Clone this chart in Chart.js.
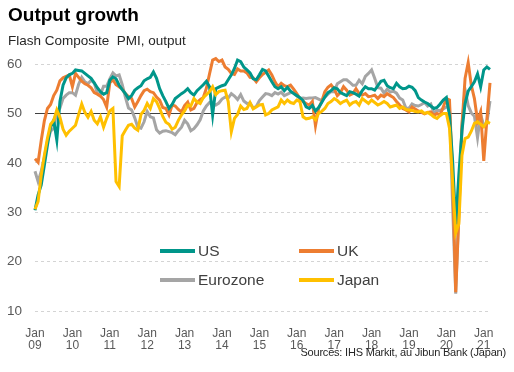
<!DOCTYPE html>
<html>
<head>
<meta charset="utf-8">
<title>Output growth</title>
<script src="https://cdn.jsdelivr.net/npm/chart.js@4.4.1/dist/chart.umd.min.js"></script>
<style>
    body { margin: 0; background: #fff; }
    #wrap { position: relative; width: 514px; height: 372px; font-family: 'Liberation Sans', Arial, sans-serif; }
    #wrap canvas { position: absolute; left: 0; top: 0; }
    .txt { position: absolute; line-height: 1; white-space: pre; }
    #title { left: 8px; top: 4.5px; font-size: 19px; font-weight: bold; color: #000; }
    #subtitle { left: 8px; top: 34px; font-size: 13.5px; color: #262626; }
    #source { right: 8px; top: 347px; font-size: 11px; letter-spacing: -0.2px; color: #262626; }
</style>
</head>
<body>
<div id="wrap">
    <canvas id="pmiChart" width="514" height="372"></canvas>
    <div class="txt" id="title">Output growth</div>
    <div class="txt" id="subtitle">Flash Composite  PMI, output</div>
    <div class="txt" id="source">Sources: IHS Markit, au Jibun Bank (Japan)</div>
</div>
<script>
// 月次データ Jan 2009 - Mar 2021
const monthNames = ['Jan', 'Feb', 'Mar', 'Apr', 'May', 'Jun', 'Jul', 'Aug', 'Sep', 'Oct', 'Nov', 'Dec'];
const yearTicks = ['09', '10', '11', '12', '13', '14', '15', '16', '17', '18', '19', '20', '21'];

const usData = [
    30.4, 33.5, 35.5, 39.5, 43.6, 47.3, 48.6, 44.6, 52.4, 55.7, 57.2, 57.8,
    58.1, 58.8, 58.7, 58.6, 58.1, 57.6, 57.1, 56.2, 55.2, 54.4, 53.9, 54.2,
    56.7, 57.4, 57.0, 55.7, 54.8, 54.0, 53.0, 53.6, 54.7, 55.2, 55.6, 56.6,
    57.0, 57.3, 58.4, 57.1, 55.0, 53.6, 52.4, 51.0, 51.8, 53.0, 53.5, 54.0,
    54.4, 55.0, 54.2, 53.7, 54.6, 55.2, 55.8, 56.5, 55.4, 49.7, 55.0, 55.3,
    55.6, 55.8, 56.8, 57.8, 59.1, 60.8, 60.5, 59.4, 58.8, 58.2, 57.0, 56.8,
    57.8, 58.9, 58.6, 57.5, 56.4, 55.4, 55.0, 55.4, 54.6, 55.3, 54.5, 54.0,
    53.6, 53.2, 52.6, 51.3, 51.0, 51.6, 50.5, 51.2, 52.2, 53.3, 54.2, 54.6,
    55.2, 55.0, 54.2, 53.9, 53.6, 54.4, 54.2, 53.9, 53.5, 54.6, 55.4, 55.0,
    55.0, 54.7, 55.6, 56.5, 56.7, 55.6, 55.2, 55.0, 56.1, 55.4, 55.0, 55.1,
    55.5, 55.3, 54.6, 53.2, 52.7, 52.3, 52.0, 51.5, 51.0, 51.2, 51.9, 52.7,
    53.2, 49.6, 40.5, 27.5, 37.5, 46.5, 52.0, 54.5, 55.4, 56.4, 58.0, 55.4,
    58.8, 59.4, 58.9
];

const ukData = [
    40.8, 40.1, 44.5, 48.5, 51.0, 51.8, 53.6, 54.7, 56.6, 57.2, 57.5, 57.8,
    55.4, 58.1, 57.3, 56.5, 56.0, 55.7, 55.2, 54.2, 53.9, 53.5, 52.8, 51.3,
    56.2, 56.8, 55.8, 55.4, 54.9, 54.0, 53.4, 53.0, 51.3, 52.4, 53.6, 54.6,
    54.9, 54.4, 54.2, 53.3, 52.7, 51.2, 51.0, 49.7, 51.7, 51.5, 50.8, 50.3,
    51.6, 52.3, 50.7, 51.0, 52.2, 52.8, 53.2, 55.1, 58.0, 60.8, 61.1, 60.5,
    60.8, 59.4, 58.9, 58.1, 57.9, 59.0, 58.6, 58.6, 58.2, 57.3, 57.2, 56.4,
    57.2, 57.9, 58.3, 58.8, 57.8, 56.4, 55.4, 56.1, 55.6, 55.4, 55.7, 54.9,
    54.0, 53.0, 52.4, 52.0, 51.7, 52.4, 47.5, 51.0, 52.4, 54.4, 55.3, 55.8,
    55.0, 53.6, 54.2, 55.4, 54.7, 53.7, 54.0, 55.0, 54.0, 53.7, 54.0, 53.4,
    53.5, 53.7, 53.0, 53.7, 53.4, 54.0, 53.6, 53.2, 52.4, 51.7, 51.0, 50.7,
    50.3, 51.3, 50.9, 50.5, 50.2, 49.9, 50.2, 50.3, 49.6, 50.0, 49.7, 51.3,
    53.0, 52.7, 37.0, 13.8, 29.0, 47.6, 57.1, 60.3, 55.7, 53.0, 48.5, 50.3,
    40.4, 48.8, 56.2
];

const eurozoneData = [
    38.3, 36.2, 38.3, 41.1, 44.4, 46.4, 47.0, 50.4, 51.1, 53.0, 53.7, 54.2,
    54.2, 53.7, 55.9, 57.3, 56.4, 56.0, 56.7, 56.2, 54.1, 53.8, 55.5, 55.5,
    57.0, 58.2, 57.6, 57.8, 55.8, 53.3, 51.1, 50.7, 49.1, 47.2, 47.0, 48.3,
    50.4, 49.3, 49.1, 46.7, 46.0, 46.4, 46.5, 46.3, 46.1, 45.7, 46.5, 47.2,
    48.6, 47.9, 46.5, 46.9, 47.7, 48.7, 50.5, 51.5, 52.2, 51.9, 51.7, 52.1,
    52.9, 53.3, 53.1, 54.0, 53.5, 52.8, 53.8, 52.5, 52.0, 52.1, 51.1, 51.4,
    52.6, 53.3, 54.0, 53.9, 53.6, 54.2, 53.9, 54.3, 53.6, 53.9, 54.2, 54.3,
    53.6, 53.0, 53.1, 53.0, 53.1, 53.1, 53.2, 52.9, 52.6, 53.3, 53.9, 54.4,
    54.4, 56.0, 56.4, 56.8, 56.8, 56.3, 55.7, 55.7, 56.7, 56.0, 57.5, 58.1,
    58.8, 57.1, 55.2, 55.1, 54.1, 54.9, 54.3, 54.5, 54.1, 53.1, 52.7, 51.1,
    51.0, 51.9, 51.6, 51.5, 51.8, 52.2, 51.5, 51.9, 50.1, 50.6, 50.6, 50.9,
    51.3, 51.6, 31.4, 13.5, 30.5, 47.5, 54.8, 51.6, 50.1, 49.4, 45.1, 49.8,
    47.5, 48.1, 52.5
];

const japanData = [
    30.6, 32.2, 37.5, 41.5, 45.0, 47.8, 48.6, 50.7, 49.2, 46.8, 45.6, 46.4,
    47.0, 47.6, 49.8, 51.9, 50.2, 49.2, 50.4, 48.6, 47.9, 49.3, 47.2, 49.0,
    50.5, 51.0, 36.2, 35.2, 45.5, 46.6, 47.6, 47.8, 47.0, 46.6, 49.8, 50.6,
    52.0, 51.0, 53.0, 52.4, 51.0, 49.4, 48.2, 47.8, 46.8, 47.2, 48.6, 49.7,
    50.5, 51.7, 51.5, 53.0, 52.3, 52.0, 53.2, 53.8, 54.4, 55.4, 53.8, 54.4,
    54.6, 54.7, 52.4, 46.3, 49.0, 49.8, 51.5, 50.8, 51.0, 52.2, 50.9, 51.3,
    51.7, 51.8, 49.7, 50.0, 50.7, 51.0, 51.3, 52.7, 52.0, 52.7, 52.2, 52.0,
    52.7, 52.4, 49.3, 48.9, 49.0, 49.3, 48.7, 50.0, 50.4, 51.0, 52.0, 52.4,
    53.0, 52.6, 52.0, 52.4, 52.7, 51.7, 52.2, 52.4, 51.7, 53.0, 52.5, 52.0,
    52.7, 52.2, 51.7, 52.0, 52.4, 52.0, 51.3, 51.5, 51.7, 51.0, 51.3, 50.8,
    50.7, 50.6, 50.4, 50.3, 50.5, 50.0, 50.2, 49.8, 49.3, 49.0, 49.6, 50.0,
    50.0, 47.0, 36.2, 25.8, 27.6, 41.5, 44.9, 45.2, 46.4, 48.0, 48.3, 47.8,
    47.3, 48.3, 48.0
];

const seriesNames = ['US', 'UK', 'Eurozone', 'Japan'];
const seriesColors = ['#00968a', '#ed7d31', '#a5a5a5', '#ffc000'];
const neutralLevel = 50;

const labels = usData.map((v, i) => monthNames[i % 12] + ' ' + yearTicks[Math.floor(i / 12)]);

const FONT = "'Liberation Sans', Arial, sans-serif";

// 凡例（2列）をチャート内に描画
const legendSlots = [
    { x: 160, y: 251 }, { x: 299, y: 251 },
    { x: 160, y: 280 }, { x: 299, y: 280 }
];
const gridLegend = {
    id: 'gridLegend',
    afterDraw(chart) {
        const ctx = chart.ctx;
        ctx.save();
        chart.data.datasets.forEach((ds, i) => {
            const s = legendSlots[i];
            ctx.strokeStyle = ds.borderColor;
            ctx.lineWidth = 4;
            ctx.beginPath();
            ctx.moveTo(s.x, s.y);
            ctx.lineTo(s.x + 35, s.y);
            ctx.stroke();
            ctx.fillStyle = '#404040';
            ctx.font = '15.5px ' + FONT;
            ctx.textBaseline = 'middle';
            ctx.fillText(ds.label, s.x + 38, s.y + 0.5);
        });
        ctx.restore();
    }
};

function makeDataset(i, data, order) {
    return {
        label: seriesNames[i],
        data: data,
        borderColor: seriesColors[i],
        backgroundColor: seriesColors[i],
        borderWidth: 3,
        pointRadius: 0,
        tension: 0,
        clip: false,
        order: order
    };
}

const ctx = document.getElementById('pmiChart').getContext('2d');
const chart = new Chart(ctx, {
    type: 'line',
    data: {
        labels: labels,
        datasets: [
            makeDataset(0, usData, 2),
            makeDataset(1, ukData, 3),
            makeDataset(2, eurozoneData, 4),
            makeDataset(3, japanData, 1)
        ]
    },
    options: {
        responsive: false,
        animation: false,
        layout: {
            padding: { top: 64, right: 24, left: 0, bottom: 0 }
        },
        scales: {
            x: {
                grid: { display: false },
                border: { display: false },
                afterFit(scale) { scale.height = 61; },
                ticks: {
                    autoSkip: false,
                    maxRotation: 0,
                    padding: 9,
                    color: '#595959',
                    font: { family: FONT, size: 12, lineHeight: 0.96 },
                    callback: function(value, index) {
                        if (index % 12 === 0) {
                            return [monthNames[0], yearTicks[index / 12]];
                        }
                        return null;
                    }
                }
            },
            y: {
                min: 10,
                max: 60,
                afterFit(scale) { scale.width = 35; },
                ticks: {
                    stepSize: 10,
                    padding: 13,
                    color: '#595959',
                    font: { family: FONT, size: 13.5 }
                },
                grid: {
                    drawTicks: false,
                    color: function(c) {
                        return c.tick && c.tick.value === neutralLevel ? '#404040' : '#d4d4d4';
                    },
                    lineWidth: 1
                },
                border: {
                    display: false,
                    dash: function(c) {
                        return c.tick && c.tick.value === neutralLevel ? [] : [3, 3];
                    }
                }
            }
        },
        plugins: {
            legend: { display: false },
            title: { display: false },
            tooltip: { enabled: false }
        }
    },
    plugins: [gridLegend]
});
</script>
</body>
</html>
